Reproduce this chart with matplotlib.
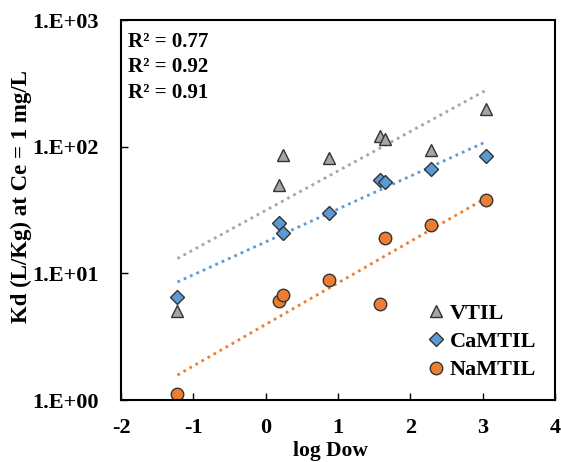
import matplotlib
matplotlib.use("Agg")
import matplotlib.pyplot as plt
import numpy as np

plt.rcParams['font.family'] = ['Liberation Serif', 'DejaVu Serif']
plt.rcParams['font.weight'] = 'bold'
plt.rcParams['axes.unicode_minus'] = False

log_dow = [-1.22, 0.18, 0.24, 0.88, 1.58, 1.65, 2.29, 3.05]
kd_vtil = [5.0, 50, 86, 82, 122, 115, 94, 200]
kd_camtil = [6.5, 25, 21, 30, 55, 53, 67, 85]
kd_namtil = [1.12, 6.1, 6.7, 8.8, 5.7, 19.1, 24.2, 38]
r2_labels = ["R² = 0.77", "R² = 0.92", "R² = 0.91"]

series = [
    ("VTIL", kd_vtil, "^", "#A5A5A5", 9),
    ("CaMTIL", kd_camtil, "D", "#5B9BD5", 7),
    ("NaMTIL", kd_namtil, "o", "#ED7D31", 9),
]

fig = plt.figure(figsize=(5.61, 4.62), dpi=100)
ax = fig.add_axes([121 / 561, 1 - 400 / 462, 434 / 561, 380 / 462])

x = np.array(log_dow)
xs = np.array([x.min(), x.max()])
for name, y, marker, color, ms in series:
    # exponential trendline, same as Excel's
    b, a = np.polyfit(x, np.log(y), 1)
    ax.plot(xs, np.exp(a + b * xs), linestyle=(0, (1, 1.5)), color=color, lw=2)
for name, y, marker, color, ms in series:
    ax.plot(x, y, linestyle="none", marker=marker, markersize=ms,
            markerfacecolor=color, markeredgecolor="#333333", markeredgewidth=1,
            label=name)

ax.set_yscale("log")
ax.set_xlim(-2, 4)
ax.set_ylim(1, 1000)
ax.set_yticks([1, 10, 100, 1000])
ax.set_yticklabels(["1.E+00", "1.E+01", "1.E+02", "1.E+03"])
ax.minorticks_off()
ax.tick_params(direction="in", length=5, width=1, labelsize=16)
ax.tick_params(axis="x", pad=13)
ax.tick_params(axis="y", pad=16)
for lab in ax.get_xticklabels() + ax.get_yticklabels():
    lab.set_fontweight("bold")
for s in ax.spines.values():
    s.set_linewidth(1.5)

ax.set_xlabel("log Dow", fontsize=15.5, fontweight="bold")
ax.xaxis.set_label_coords(0.483, -0.108)
ax.set_ylabel("Kd (L/Kg) at Ce = 1 mg/L", fontsize=16.5, fontweight="bold")
ax.yaxis.set_label_coords(-0.205, 0.535)

for i, t in enumerate(r2_labels):
    ax.text(0.017, 0.942 - i * 0.067, t, transform=ax.transAxes, fontsize=15,
            fontweight="bold", va="center")

leg = ax.legend(loc="center left", bbox_to_anchor=(0.68, 0.153), frameon=False,
                fontsize=16, handletextpad=0.1, handlelength=1, borderaxespad=0,
                labelspacing=0.35)

fig.savefig("out.png", dpi=100)
